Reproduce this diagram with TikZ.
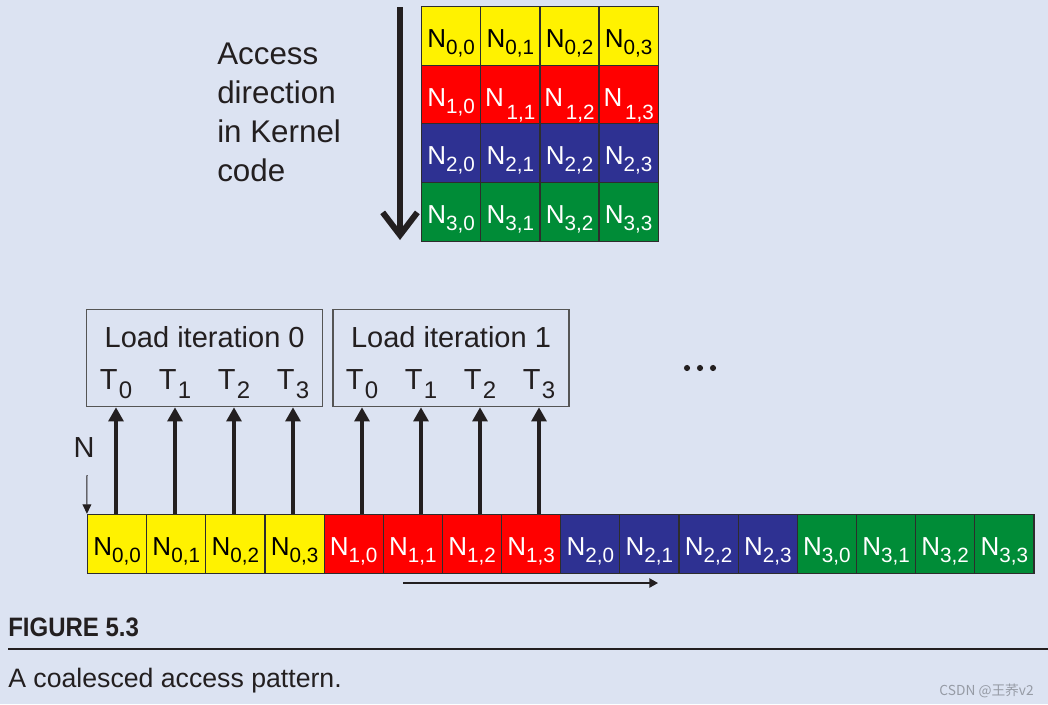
\documentclass[tikz,border=0pt]{standalone}
\usepackage{fontspec}
\setmainfont{Liberation Sans}
\newfontfamily\cjkfont{Noto Sans CJK SC}
\usetikzlibrary{arrows.meta,positioning}

\definecolor{bgblue}{RGB}{220,227,242}
\definecolor{textdark}{RGB}{35,31,32}
\definecolor{edgegray}{RGB}{45,45,45}
\definecolor{boxgray}{RGB}{85,85,85}
\definecolor{markgray}{RGB}{150,155,165}
\definecolor{cellyellow}{RGB}{255,242,0}
\definecolor{cellred}{RGB}{255,0,0}
\definecolor{cellblue}{RGB}{46,49,146}
\definecolor{cellgreen}{RGB}{0,140,55}
\colorlet{rowfill0}{cellyellow} \colorlet{rowtext0}{black}
\colorlet{rowfill1}{cellred}    \colorlet{rowtext1}{white}
\colorlet{rowfill2}{cellblue}   \colorlet{rowtext2}{white}
\colorlet{rowfill3}{cellgreen}  \colorlet{rowtext3}{white}

\newcommand{\nsub}[2]{{\fontsize{19.5}{20}\selectfont N}\raisebox{-5.25pt}{\fontsize{15.5}{16}\selectfont #1,#2}}
\newcommand{\nlow}[2]{{\fontsize{19.5}{20}\selectfont N}\hspace{2pt}\raisebox{-9.75pt}{\fontsize{15.5}{16}\selectfont #1,#2}}
\newcommand{\mlab}[2]{\ifnum#1=1 \ifnum#2>0 \nlow{#1}{#2}\else\nsub{#1}{#2}\fi\else\nsub{#1}{#2}\fi}
\newcommand{\tsub}[1]{T\hspace{1pt}\raisebox{-6.75pt}{\fontsize{18}{19}\selectfont #1}}

\tikzset{
  cell/.style={draw=edgegray, line width=0.9pt, inner sep=0pt,
    minimum width=44.36pt, minimum height=44.1pt,
    text height=17.25pt, text depth=0pt},
  loadbox/.style={draw=boxgray, line width=0.9pt, minimum width=177pt, minimum height=73pt},
  bigtext/.style={text=textdark, inner sep=0pt, font=\fontsize{21.75}{26}\selectfont},
  accarrow/.style={draw=textdark, line width=4.5pt, -{Straight Barb[length=17pt,width=26pt]}},
  uparrow/.style={draw=textdark, line width=3pt, -{Triangle[length=10.5pt,width=11pt]}},
  thinarrow/.style={draw=textdark, line width=0.75pt, -{Triangle[length=7pt,width=6.5pt]}}
}

\begin{document}
\begin{tikzpicture}[x=0.75pt, y=-0.75pt]
    \useasboundingbox (0,0) rectangle (1048,704);
    \fill[bgblue] (0,0) rectangle (1048,704);

    \coordinate (acctop) at (400,7);
    \coordinate (accbot) at (400,240);
    \coordinate (nstart) at (87,475);
    \coordinate (sweepstart) at (403,583);
    \coordinate (sweepend)   at (658,583);
    \coordinate (rulestart)  at (8,649);
    \coordinate (ruleend)    at (1048,649);
    \foreach \k/\ax in {0/116,1/175,2/234,3/293,4/362,5/421,6/480,7/539}
        \coordinate (a\k) at (\ax,0);

    \foreach \r in {0,...,3}
        \foreach \c in {0,...,3}
            \node[cell, fill=rowfill\r, text=rowtext\r] (m-\r-\c)
                at ({451.1+59.2*\c},{35.85+58.7*\r}) {\mlab{\r}{\c}};

    \draw[accarrow] (acctop) -- (accbot);
    \node[text=textdark, inner sep=0pt, anchor=north west, align=left,
          font=\fontsize{23.5}{29.25}\selectfont] (acctext) at (217,43)
        {Access\\direction\\in Kernel\\code};

    \foreach \k in {0,...,15} {
        \pgfmathtruncatemacro\rr{\k/4}
        \pgfmathtruncatemacro\cc{mod(\k,4)}
        \node[cell, fill=rowfill\rr, text=rowtext\rr] (b\k)
            at ({117.1+59.15*\k},543.8) {\nsub{\rr}{\cc}};
    }

    \node[loadbox] (box0) at (204.7,358) {};
    \node[loadbox] (box1) at (451,358) {};
    \node[bigtext, anchor=base] (title0) at (204.7,347) {Load iteration 0};
    \node[bigtext, anchor=base] (title1) at (451,347) {Load iteration 1};

    \foreach \k in {0,...,7} {
        \pgfmathtruncatemacro\bb{\k/4}
        \pgfmathtruncatemacro\tt{mod(\k,4)}
        \draw[uparrow] (a\k |- b\k.north) -- (a\k |- box\bb.south);
        \node[bigtext, anchor=base] (t\k) at (a\k |- 0,389) {\tsub{\tt}};
    }

    \foreach \dx in {0,13,26}
        \fill[textdark] (687+\dx,368) circle (2.3pt);

    \node[bigtext, anchor=center] (nlabel) at (84,448) {N};
    \draw[thinarrow] (nstart) -- (b0.north west);
    \draw[draw=textdark, line width=1.1pt, -{Triangle[length=6.5pt,width=7pt]}] (sweepstart) -- (sweepend);

    \node[text=textdark, inner sep=0pt, anchor=base west] (figlabel) at (8,636)
        {\scalebox{0.9}[1]{\fontsize{20}{24}\selectfont\bfseries FIGURE 5.3}};
    \draw[draw=textdark, line width=1.1pt] (rulestart) -- (ruleend);
    \node[text=textdark, inner sep=0pt, anchor=base west, font=\fontsize{20}{24}\selectfont] (caption) at (8,687)
        {A coalesced access pattern.};
    \node[text=markgray, inner sep=0pt, anchor=base east, font=\cjkfont\fontsize{10.3}{12}\selectfont] (mark) at (1034,695)
        {CSDN @王荞v2};
\end{tikzpicture}
\end{document}
